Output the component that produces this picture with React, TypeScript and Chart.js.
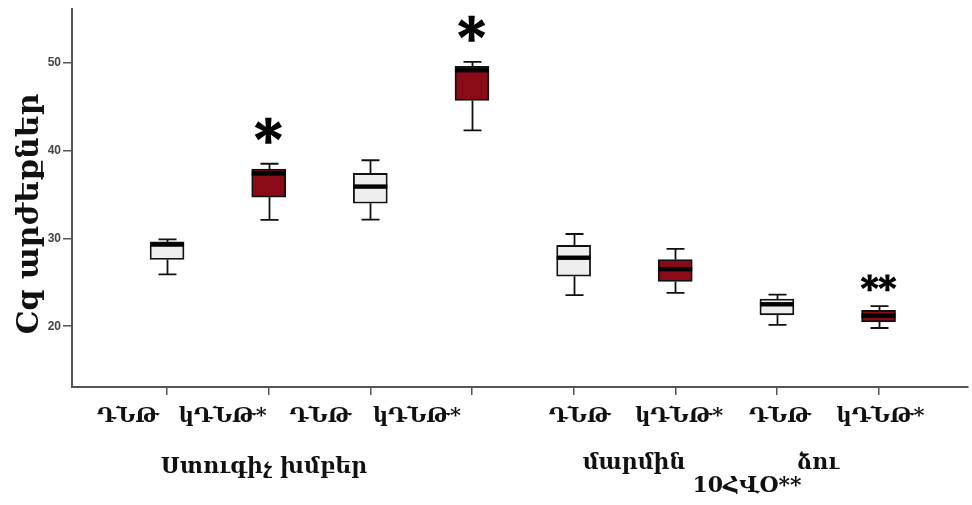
import React, { useEffect, useRef } from "react";
import { Chart, registerables } from "chart.js";

Chart.register(...registerables);

// ---- data ----
const categories = ["ԴՆԹ", "կԴՆԹ*", "ԴՆԹ", "կԴՆԹ*", "ԴՆԹ", "կԴՆԹ*", "ԴՆԹ", "կԴՆԹ*"];
const groupLabels = ["Ստուգիչ խմբեր", "մարմին", "ձու", "10ՀՎՕ**"];
const yTitle = "Cq արժեքներ";
const yTicks = [20, 30, 40, 50];
const mins = [25.9, 32.1, 32.15, 42.3, 23.55, 23.8, 20.15, 19.8];
const q1s = [27.6, 34.7, 34.0, 45.7, 25.7, 25.1, 21.3, 20.5];
const medians = [29.3, 37.4, 35.9, 49.15, 27.8, 26.5, 22.5, 21.2];
const q3s = [29.6, 37.9, 37.4, 49.6, 29.2, 27.6, 23.1, 21.8];
const maxs = [29.9, 38.5, 38.9, 50.1, 30.5, 28.8, 23.6, 22.3];
const marks = ["", "*", "", "*", "", "", "", "**"];

// ---- layout / style constants ----
const LIGHT = "#EEEEEE";
const RED = "#8A0A16";
const AXIS = "#555555";
const BOX_W = 34;
const CAP_HALF = 9;
const LABEL_DX = [-39, -46, -50, -55, 6, 4, 3, 2];
const LABEL_Y = 417;
const GROUP_POS = [
  { x: 264, y: 467 },
  { x: 634, y: 463 },
  { x: 818, y: 463 },
  { x: 747, y: 486 },
];
const SERIF = "'DejaVu Serif', 'Liberation Serif', serif";

function drawCenteredGlyph(ctx: CanvasRenderingContext2D, text: string, cx: number, cy: number) {
  const m = ctx.measureText(text);
  const left = m.actualBoundingBoxLeft;
  const right = m.actualBoundingBoxRight;
  const asc = m.actualBoundingBoxAscent;
  const desc = m.actualBoundingBoxDescent;
  const x = cx - (right - left) / 2;
  const y = cy + (asc - desc) / 2;
  ctx.fillText(text, x, y);
  ctx.strokeText(text, x, y);
}

const extrasPlugin = {
  id: "boxExtras",
  beforeDatasetsDraw(chart: any) {
    const { ctx, scales } = chart;
    const x = scales.x;
    const y = scales.y;
    ctx.save();
    ctx.strokeStyle = "#111";
    ctx.lineWidth = 1.8;
    for (let i = 0; i < mins.length; i++) {
      const cx = Math.round(x.getPixelForValue(i)) + 0.5;
      const yMin = y.getPixelForValue(mins[i]);
      const yQ1 = y.getPixelForValue(q1s[i]);
      const yQ3 = y.getPixelForValue(q3s[i]);
      const yMax = y.getPixelForValue(maxs[i]);
      ctx.beginPath();
      ctx.moveTo(cx, yMin);
      ctx.lineTo(cx, yQ1);
      ctx.moveTo(cx, yQ3);
      ctx.lineTo(cx, yMax);
      ctx.moveTo(cx - CAP_HALF, yMin);
      ctx.lineTo(cx + CAP_HALF, yMin);
      ctx.moveTo(cx - CAP_HALF, yMax);
      ctx.lineTo(cx + CAP_HALF, yMax);
      ctx.stroke();
    }
    ctx.restore();
  },
  afterDatasetsDraw(chart: any) {
    const { ctx, scales } = chart;
    const x = scales.x;
    const y = scales.y;
    ctx.save();
    ctx.fillStyle = "#000";
    ctx.strokeStyle = "#000";
    for (let i = 0; i < medians.length; i++) {
      const cx = x.getPixelForValue(i);
      const ym = y.getPixelForValue(medians[i]);
      ctx.fillRect(cx - BOX_W / 2, ym - 2.2, BOX_W, 4.4);
    }
    // significance marks
    for (let i = 0; i < marks.length; i++) {
      if (!marks[i]) continue;
      const cx = x.getPixelForValue(i);
      const yMax = y.getPixelForValue(maxs[i]);
      if (marks[i].length === 1) {
        ctx.font = `bold 52px ${SERIF}`;
        ctx.lineWidth = 1.6;
        drawCenteredGlyph(ctx, marks[i], cx, yMax - 33);
      } else {
        ctx.font = `bold 34px ${SERIF}`;
        ctx.lineWidth = 1.2;
        drawCenteredGlyph(ctx, marks[i], cx, yMax - 23);
      }
    }
    ctx.restore();
  },
  afterDraw(chart: any) {
    const { ctx, scales } = chart;
    const x = scales.x;
    ctx.save();
    ctx.fillStyle = "#111";
    ctx.textAlign = "center";
    ctx.textBaseline = "middle";
    ctx.font = `bold 21px ${SERIF}`;
    for (let i = 0; i < categories.length; i++) {
      const cx = x.getPixelForValue(i) + LABEL_DX[i];
      ctx.fillText(categories[i], cx, LABEL_Y);
    }
    ctx.font = `bold 22px ${SERIF}`;
    for (let i = 0; i < groupLabels.length; i++) {
      ctx.fillText(groupLabels[i], GROUP_POS[i].x, GROUP_POS[i].y);
    }
    // y title
    ctx.translate(30, 214);
    ctx.rotate(-Math.PI / 2);
    ctx.font = `bold 30px ${SERIF}`;
    ctx.fillText(yTitle, 0, 0);
    ctx.restore();
  },
};

export default function App() {
  const ref = useRef<HTMLCanvasElement | null>(null);
  useEffect(() => {
    document.body.style.margin = "0";
    const canvas = ref.current;
    if (!canvas) return;
    const data = q1s.map((q1, i) => ({ x: i, y: [q1, q3s[i]] }));
    const chart = new Chart(canvas, {
      type: "bar",
      data: {
        datasets: [
          {
            data: data as any,
            backgroundColor: data.map((_, i) => (i % 2 === 0 ? LIGHT : RED)),
            borderColor: "#111",
            borderWidth: 1.8,
            borderSkipped: false,
            barThickness: BOX_W,
          } as any,
        ],
      },
      options: {
        animation: false,
        responsive: false,
        events: [],
        layout: { padding: { left: 0, top: 8, right: 4, bottom: 0 } },
        plugins: { legend: { display: false }, tooltip: { enabled: false } },
        scales: {
          x: {
            type: "linear",
            offset: false,
            min: -0.935,
            max: 7.88,
            afterBuildTicks: (s: any) => {
              s.ticks = categories.map((_, i) => ({ value: i }));
            },
            afterFit: (s: any) => {
              s.height = 118;
            },
            ticks: { display: false },
            grid: {
              offset: false,
              drawOnChartArea: false,
              drawTicks: true,
              tickLength: 8,
              color: AXIS,
              lineWidth: 1.5,
            },
            border: { display: true, color: AXIS, width: 2 },
          },
          y: {
            type: "linear",
            min: 13.08,
            max: 56.1,
            afterBuildTicks: (s: any) => {
              s.ticks = yTicks.map((v) => ({ value: v }));
            },
            afterFit: (s: any) => {
              s.width = 72;
            },
            ticks: {
              color: "#444",
              padding: 2,
              font: { family: "'Liberation Sans', Arial, sans-serif", size: 12, weight: "bold" },
            },
            grid: {
              drawOnChartArea: false,
              drawTicks: true,
              tickLength: 9,
              color: AXIS,
              lineWidth: 1.5,
            },
            border: { display: true, color: AXIS, width: 2 },
          },
        },
      } as any,
      plugins: [extrasPlugin],
    });
    return () => chart.destroy();
  }, []);
  return (
    <div style={{ width: 972, height: 505 }}>
      <canvas ref={ref} width={972} height={505} style={{ display: "block" }} />
    </div>
  );
}
